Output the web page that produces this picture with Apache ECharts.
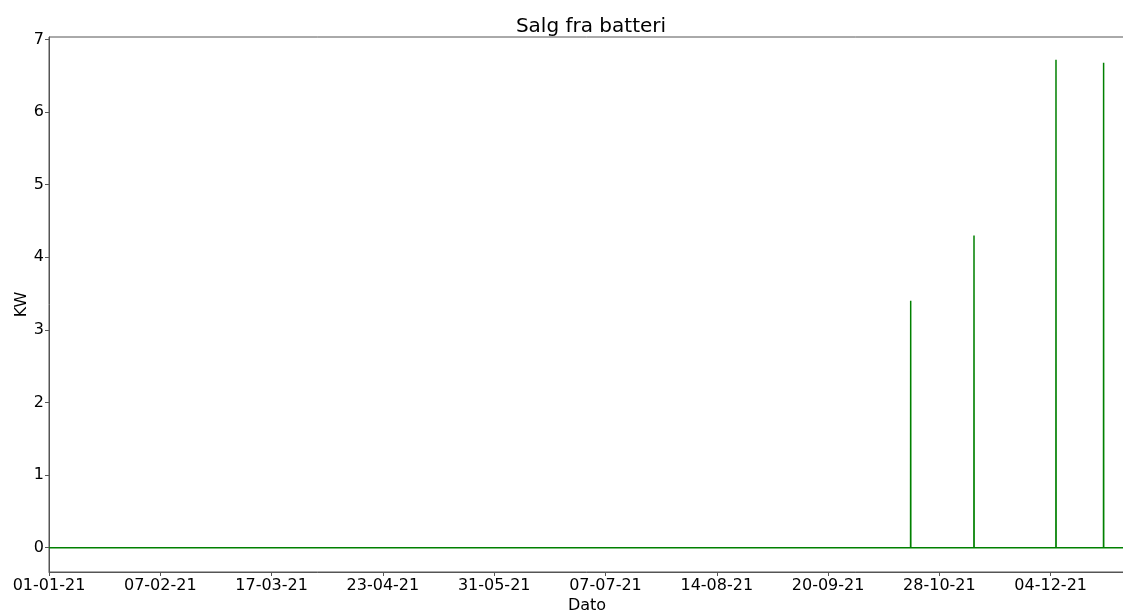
<!DOCTYPE html>
<html>
<head>
<meta charset="utf-8">
<script src="https://cdn.jsdelivr.net/npm/echarts@6/dist/echarts.min.js"></script>
<style>
html,body{margin:0;padding:0;background:#fff;}
#chart{width:1123px;height:613px;}
</style>
</head>
<body>
<div id="chart"></div>
<script>
// ---- data ----
const startDate = '2021-01-01 00:00';
const endDate = '2021-12-31 23:00';
const spikeTimes = ['2021-10-18 08:00', '2021-11-08 16:00', '2021-12-06 07:00', '2021-12-22 08:00'];
const spikeValues = [3.40, 4.30, 6.72, 6.68];
const xTickLabels = ['01-01-21','07-02-21','17-03-21','23-04-21','31-05-21','07-07-21','14-08-21','20-09-21','28-10-21','04-12-21'];
const yTickValues = [0, 1, 2, 3, 4, 5, 6, 7];
const xTickHours = [0, 900, 1800, 2700, 3600, 4500, 5400, 6300, 7200, 8100];

function toMs(s){ const [d,t]=s.split(' '); const [Y,M,D]=d.split('-').map(Number); const [h,m]=t.split(':').map(Number); return Date.UTC(Y,M-1,D,h,m); }
const t0 = toMs(startDate);
function hoursSince(s){ return (toMs(s)-t0)/3600000; }

const seriesData = [[0, 0]];
spikeTimes.forEach((s, i) => {
  const h = hoursSince(s);
  seriesData.push([h - 1, 0], [h, spikeValues[i]], [h + 1, 0]);
});
seriesData.push([hoursSince(endDate), 0]);

const labelMap = {};
xTickHours.forEach((h, i) => { labelMap[h] = xTickLabels[i]; });

const font = 'DejaVu Sans';
const axisColor = '#555';
const chart = echarts.init(document.getElementById('chart'), null, {renderer: 'canvas'});
chart.setOption({
  animation: false,
  backgroundColor: '#fff',
  title: {
    text: 'Salg fra batteri',
    left: 591, top: 17, padding: 0, textAlign: 'center',
    textStyle: {fontFamily: font, fontSize: 20, fontWeight: 'normal', color: '#000'}
  },
  grid: {left: 49, top: 37, right: -2, bottom: 41, show: true, borderColor: axisColor, borderWidth: 1,
    containLabel: false, outerBoundsMode: 'none'},
  xAxis: {
    type: 'value', min: 0, max: 8701,
    name: 'Dato', nameLocation: 'middle', nameGap: 26, nameMoveOverlap: false,
    nameTextStyle: {fontFamily: font, fontSize: 16, color: '#000'},
    axisLine: {show: true, onZero: false, lineStyle: {color: axisColor, width: 1}},
    axisTick: {show: true, length: 4, lineStyle: {color: axisColor}, customValues: xTickHours},
    axisLabel: {fontFamily: font, fontSize: 16, color: '#000', margin: 6, customValues: xTickHours,
      formatter: v => labelMap[v] !== undefined ? labelMap[v] : ''},
    splitLine: {show: false}
  },
  yAxis: {
    type: 'value', min: -0.335, max: 7.035,
    name: 'KW', nameLocation: 'middle', nameGap: 19, nameRotate: 90, nameMoveOverlap: false,
    nameTextStyle: {fontFamily: font, fontSize: 16, color: '#000'},
    axisLine: {show: true, onZero: false, lineStyle: {color: axisColor, width: 1}},
    axisTick: {show: true, length: 4, lineStyle: {color: axisColor}, customValues: yTickValues},
    axisLabel: {fontFamily: font, fontSize: 16, color: '#000', margin: 5, customValues: yTickValues,
      formatter: v => String(Math.round(v))},
    splitLine: {show: false}
  },
  series: [{
    type: 'line', data: seriesData, showSymbol: false, symbol: 'none',
    lineStyle: {color: '#008000', width: 1.5}, clip: true
  }]
});
</script>
</body>
</html>
